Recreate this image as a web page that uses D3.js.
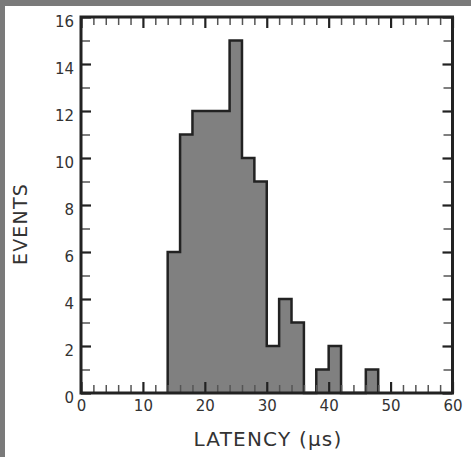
<!DOCTYPE html>
<html>
<head>
<meta charset="utf-8">
<script src="https://cdn.jsdelivr.net/npm/d3@7"></script>
<style>
  html, body { margin: 0; padding: 0; background: #7a7a7a; }
  svg { display: block; }
</style>
</head>
<body>
<div id="chart"></div>
<script>
// histogram bins (left edges, width 2 us) and event counts
const binStarts = [14, 16, 18, 20, 22, 24, 26, 28, 30, 32, 34, 36, 38, 40, 42, 44, 46]
const counts    = [ 6, 11, 12, 12, 12, 15, 10,  9,  2,  4,  3,  0,  1,  2,  0,  0,  1]
const binWidth = 2
const xMajor = [0, 10, 20, 30, 40, 50, 60]
const yMajor = [0, 2, 4, 6, 8, 10, 12, 14, 16]

const W = 471, H = 457
const svg = d3.select("#chart").append("svg")
    .attr("width", W)
    .attr("height", H)

// white card on the gray backdrop
svg.append("rect")
    .attr("x", 5).attr("y", 6)
    .attr("width", W - 5).attr("height", H - 6)
    .attr("fill", "#fff")

const plotL = 81, plotR = 452.5, plotT = 17, plotB = 393

const x = d3.scaleLinear().domain([0, 60]).range([plotL, plotR])
const y = d3.scaleLinear().domain([0, 16]).range([plotB, plotT])

// step outline of the histogram
let pts = [[binStarts[0], 0]]
binStarts.forEach((b, i) => {
    pts.push([b, counts[i]])
    pts.push([b + binWidth, counts[i]])
})
pts.push([binStarts[binStarts.length - 1] + binWidth, 0])

let line = d3.line()
    .x(d => x(d[0]))
    .y(d => y(d[1]))

svg.append("path")
    .datum(pts)
    .attr("d", line)
    .attr("fill", "#808080")
    .attr("stroke", "#222")
    .attr("stroke-width", 2.5)
    .attr("stroke-linejoin", "miter")

// ticks (all pointing inward)
const xMinor = d3.range(0, 61, 2).filter(v => v % 10 !== 0)
const yMinor = d3.range(1, 16, 2)

function styleAxis(g, col, w) {
    g.select(".domain").remove()
    g.selectAll(".tick line").attr("stroke", col).attr("stroke-width", w)
}

const font = "'DejaVu Sans', sans-serif"

// bottom
svg.append("g").attr("transform", `translate(0,${plotB})`)
    .call(d3.axisBottom(x).tickValues(xMinor).tickSize(-8).tickFormat(""))
    .call(g => styleAxis(g, "#555", 1.5))
svg.append("g").attr("transform", `translate(0,${plotB})`)
    .call(d3.axisBottom(x).tickValues(xMajor).tickSize(-11).tickPadding(7).tickFormat(d3.format("d")))
    .call(g => styleAxis(g, "#222", 2.2))
    .call(g => g.selectAll(".tick text")
        .attr("font-family", font).attr("font-size", 15).attr("fill", "#333"))
// top
svg.append("g").attr("transform", `translate(0,${plotT})`)
    .call(d3.axisTop(x).tickValues(xMinor).tickSize(-8).tickFormat(""))
    .call(g => styleAxis(g, "#555", 1.5))
svg.append("g").attr("transform", `translate(0,${plotT})`)
    .call(d3.axisTop(x).tickValues(xMajor).tickSize(-11).tickFormat(""))
    .call(g => styleAxis(g, "#222", 2.2))
// left
svg.append("g").attr("transform", `translate(${plotL},0)`)
    .call(d3.axisLeft(y).tickValues(yMinor).tickSize(-9).tickFormat(""))
    .call(g => styleAxis(g, "#555", 1.5))
svg.append("g").attr("transform", `translate(${plotL},0)`)
    .call(d3.axisLeft(y).tickValues(yMajor).tickSize(-10).tickPadding(7).tickFormat(d3.format("d")))
    .call(g => styleAxis(g, "#222", 2.2))
    .call(g => g.selectAll(".tick text")
        .attr("font-family", font).attr("font-size", 15).attr("fill", "#333")
        .attr("dy", "0.6em"))
// right
svg.append("g").attr("transform", `translate(${plotR},0)`)
    .call(d3.axisRight(y).tickValues(yMinor).tickSize(-9).tickFormat(""))
    .call(g => styleAxis(g, "#555", 1.5))
svg.append("g").attr("transform", `translate(${plotR},0)`)
    .call(d3.axisRight(y).tickValues(yMajor).tickSize(-10).tickFormat(""))
    .call(g => styleAxis(g, "#222", 2.2))

// frame
svg.append("rect")
    .attr("x", plotL).attr("y", plotT)
    .attr("width", plotR - plotL).attr("height", plotB - plotT)
    .attr("fill", "none")
    .attr("stroke", "#222")
    .attr("stroke-width", 3)

// axis titles
svg.append("text")
    .attr("x", 268).attr("y", 446)
    .attr("text-anchor", "middle")
    .attr("font-family", font).attr("font-size", 20)
    .attr("letter-spacing", 1.2)
    .attr("fill", "#333")
    .text("LATENCY (μs)")
svg.append("text")
    .attr("transform", "translate(27,224) rotate(-90)")
    .attr("text-anchor", "middle")
    .attr("font-family", font).attr("font-size", 19)
    .attr("letter-spacing", 1.2)
    .attr("fill", "#333")
    .text("EVENTS")
</script>
</body>
</html>
